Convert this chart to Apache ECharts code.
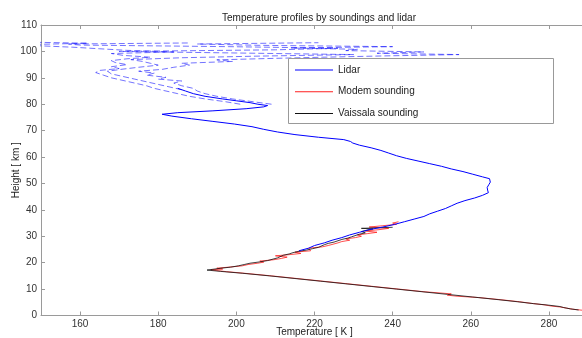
<!DOCTYPE html>
<html>
<head>
<meta charset="utf-8">
<script src="https://cdn.jsdelivr.net/npm/echarts@6/dist/echarts.min.js"></script>
<style>
  html, body { margin: 0; padding: 0; background: #fff; }
  #chart { width: 582px; height: 338px; }
</style>
</head>
<body>
<div id="chart"></div>
<script>
// Temperature axis tick labels
const tempTicks = [160, 180, 200, 220, 240, 260, 280];

// Lidar profile (solid part), height in km and temperature in K
const lidarHeight = [24.5,25.5,26.5,27.5,28.5,29.5,30.5,31.5,32.5,33.5,34.5,35.5,36.5,37.5,38.5,39.5,40.5,41.5,42.5,43.5,44.5,45.5,46.5,47.5,48.5,49.5,50.5,51.2,51.8,52.5,53.5,54.5,55.5,56.5,57.5,58.5,59.5,60.5,61.5,62.5,63.5,64.5,65.3,65.9,66.6,67.5,68.5,69.5,70.5,71.5,72.5,73.5,74.5,75.5,76.2,76.8,77.5,78.3,79.0,79.5,80.0,80.6,81.3,82.0,83.0,84.0,85.0,86.0];
const lidarTemp = [216,218.5,220,222.5,224.5,227,229,231.5,234,237.5,240.5,243,245.5,248,249.5,251.5,253.5,255,256.5,258.5,261,263,264.5,264.3,264.2,264.6,265,265.4,264.8,263,260.5,258,255,252.5,249.5,246.5,243.5,241,239,237,234.5,231.5,229.8,229.2,227.5,221,215,210.5,207,204,199.5,194,188.5,183.5,181,185,194,202.5,207,208,205.5,203.5,200,196.5,192,189,187,185];

// Lidar upper layers: central estimate and error bounds (dashed)
const lidarMidHeight = [85.5,86.5,87.5,88.5,89.5,90.5,91.5,92.5,93.3,94,94.8,95.5,96.2,96.9,97.6,98.2,98.8,99.4,100,100.6,101.2,101.8,102.4,102.8,103.2];
const lidarMidTemp = [186,183,180,177,174,171,168,167,171,175,180,178,176,173,186,205,230,200,170,210,226,198,160,157,188];
const lidarWarmHeight = [80,81,82,83,84,85,86,87,88,88.8,89.5,90.2,91,91.8,92.5,93.2,94,94.8,95.5,96.2,96.8,97.3,97.8,98.3,98.8,99.3,99.8,100.3,100.8,101.3,101.8,102.3,102.8,103.3];
const lidarWarmTemp = [209,204,199,195,192,190,189,186,184,186,180,182,177,179,175,181,184,188,186,199,195,208,222,238,257,236,248,228,231,214,240,206,190,221];
const lidarColdHeight = [80,81,82,83,84,85,86,87,88,89,90,91,92,92.8,93.5,94.2,95,95.8,96.5,97.2,97.8,98.5,99.2,99.8,100.4,101,101.6,102.1,102.6,103.1,103.5];
const lidarColdTemp = [201,197,192,188,185,182,179,177,174,171,168,166,164,165,170,168,172,169,168,172,178,171,168,184,172,165,158,150,147,162,147];

// Modem radiosonde
const modemHeight = [2.0,2.4,2.8,3.2,3.6,4.0,4.6,5.2,6.0,6.8,7.3,7.7,8.2,9.0,10.0,11.0,12.0,13.0,14.0,15.0,16.0,16.6,17.0,17.3,17.6,17.9,18.3,18.8,19.3,19.8,20.2,20.6,21.1,21.6,22.1,22.6,23.1,23.5,24.0,24.5,25.0,25.5,26.0,26.5,27.0,27.5,28.0,28.5,29.0,29.5,30.0,30.5,31.0,31.5,32.0,32.5,33.0,33.5,34.0,34.5,35.0,35.5];
const modemTemp = [288.5,286,284.5,283,280.5,279,275.5,272.5,267.5,262,256.5,254,255,248,241.5,235,228.5,222,215.5,209,202,197.5,195,193.5,196.5,195,198,201.5,203,205.5,207,206,209.5,211.5,213,210,214,216.5,215,219,219.5,218.5,222,223.5,224,226,227,229,228,230.5,232,231,233.5,236,233,236.5,239,234,237.5,241,240,241.5];

// Vaissala radiosonde
const vaisHeight = [2.1,2.5,3.0,3.4,3.9,4.5,5.2,6.0,7.0,8.0,9.0,10.0,11.0,12.0,13.0,14.0,15.0,16.0,16.7,17.2,17.5,17.9,18.3,18.8,19.3,19.8,20.3,20.8,21.3,21.8,22.3,22.8,23.3,23.8,24.3,24.8,25.3,25.8,26.3,26.8,27.3,27.8,28.3,28.8,29.3,29.8,30.3,30.8,31.3,31.8,32.3,32.8,33.0,33.4];
const vaisTemp = [287.6,285.5,283.8,282.8,280,276,272,267,260.5,254,247.5,241,234.5,228,221.5,215,208.5,201.5,196,192.5,194,196,198.5,200.5,202,203.5,206,208,208.5,210.5,211,212,213.5,214.5,216,218,219.5,221,221.5,222.5,223.5,225,225.5,227,228.5,229.5,230,231.5,233,232,233.5,235,232,240];

function pairs(temp, height) {
  return temp.map((t, i) => [t, height[i]]);
}

const axisGray = '#9a9a9a';
const labelColor = '#333';
const font = 'Liberation Sans, Arial, sans-serif';
const lidarColor = '#0000ff';
const modemColor = '#ff2020';
const vaisColor = '#111111';

// thin horizontal stroke used as legend key (corner specks keep the 38x10 box)
const legendLine = 'path://M0,0h0.05v0.05h-0.05z M0,4.5h38v1h-38z M37.95,9.95h0.05v0.05h-0.05z';

const chart = echarts.init(document.getElementById('chart'), null, { renderer: 'canvas' });

const dashedLidar = (name, temp, height) => ({
  name: name,
  type: 'line',
  data: pairs(temp, height),
  symbol: 'none',
  z: 3,
  color: lidarColor,
  lineStyle: { color: lidarColor, width: 1, type: [6, 3], opacity: 0.55 }
});

chart.setOption({
  animation: false,
  backgroundColor: '#fff',
  title: {
    text: 'Temperature profiles by soundings and lidar',
    left: 314,
    textAlign: 'center',
    top: 8,
    textStyle: { fontSize: 10, fontWeight: 'normal', color: '#222', fontFamily: font }
  },
  grid: {
    left: 41, top: 25, width: 547, height: 290.5,
    containLabel: false,
    outerBoundsMode: 'none'
  },
  legend: {
    orient: 'vertical',
    left: 295, top: 65,
    padding: 0,
    itemWidth: 38, itemHeight: 10, itemGap: 11.7,
    z: 110,
    data: [
      { name: 'Lidar', icon: legendLine },
      { name: 'Modem sounding', icon: legendLine },
      { name: 'Vaissala sounding', icon: legendLine }
    ],
    textStyle: { fontSize: 10, color: '#222', fontFamily: font }
  },
  graphic: [{
    type: 'rect',
    z: 100,
    shape: { x: 288.5, y: 58.5, width: 265, height: 65 },
    style: { fill: '#fff', stroke: '#999', lineWidth: 1 }
  }],
  xAxis: [{
    type: 'value', position: 'bottom', min: 150, max: 290,
    name: 'Temperature [ K ]', nameLocation: 'middle', nameGap: 12,
    nameMoveOverlap: false,
    nameTextStyle: { fontSize: 10, color: '#222', fontFamily: font },
    axisLine: { show: true, onZero: false, lineStyle: { color: axisGray, width: 1 } },
    axisTick: { show: true, inside: true, length: 4, customValues: tempTicks, lineStyle: { color: axisGray } },
    axisLabel: { customValues: tempTicks, fontSize: 10, color: labelColor, margin: 4, fontFamily: font },
    splitLine: { show: false }
  }, {
    type: 'value', position: 'top', min: 150, max: 290,
    axisLine: { show: true, onZero: false, lineStyle: { color: axisGray, width: 1 } },
    axisTick: { show: true, inside: true, length: 4, customValues: tempTicks, lineStyle: { color: axisGray } },
    axisLabel: { show: false },
    splitLine: { show: false }
  }],
  yAxis: [{
    type: 'value', min: 0, max: 110, interval: 10,
    name: 'Height [ km ]', nameLocation: 'middle', nameRotate: 90, nameGap: 20,
    nameMoveOverlap: false,
    nameTextStyle: { fontSize: 10, color: '#222', fontFamily: font },
    axisLine: { show: true, onZero: false, lineStyle: { color: axisGray, width: 1 } },
    axisTick: { show: true, inside: true, length: 4, lineStyle: { color: axisGray } },
    axisLabel: { fontSize: 10, color: labelColor, margin: 4, fontFamily: font },
    splitLine: { show: false }
  }],
  series: [
    {
      name: 'Modem sounding', type: 'line', data: pairs(modemTemp, modemHeight),
      symbol: 'none', z: 2, color: modemColor,
      lineStyle: { color: modemColor, width: 1, opacity: 0.8 }
    },
    {
      name: 'Vaissala sounding', type: 'line', data: pairs(vaisTemp, vaisHeight),
      symbol: 'none', z: 3, color: vaisColor,
      lineStyle: { color: vaisColor, width: 1, opacity: 0.8 }
    },
    {
      name: 'Lidar', type: 'line', data: pairs(lidarTemp, lidarHeight),
      symbol: 'none', z: 4, color: lidarColor,
      lineStyle: { color: lidarColor, width: 1 }
    },
    dashedLidar('Lidar mid', lidarMidTemp, lidarMidHeight),
    dashedLidar('Lidar warm', lidarWarmTemp, lidarWarmHeight),
    dashedLidar('Lidar cold', lidarColdTemp, lidarColdHeight)
  ]
});
</script>
</body>
</html>
